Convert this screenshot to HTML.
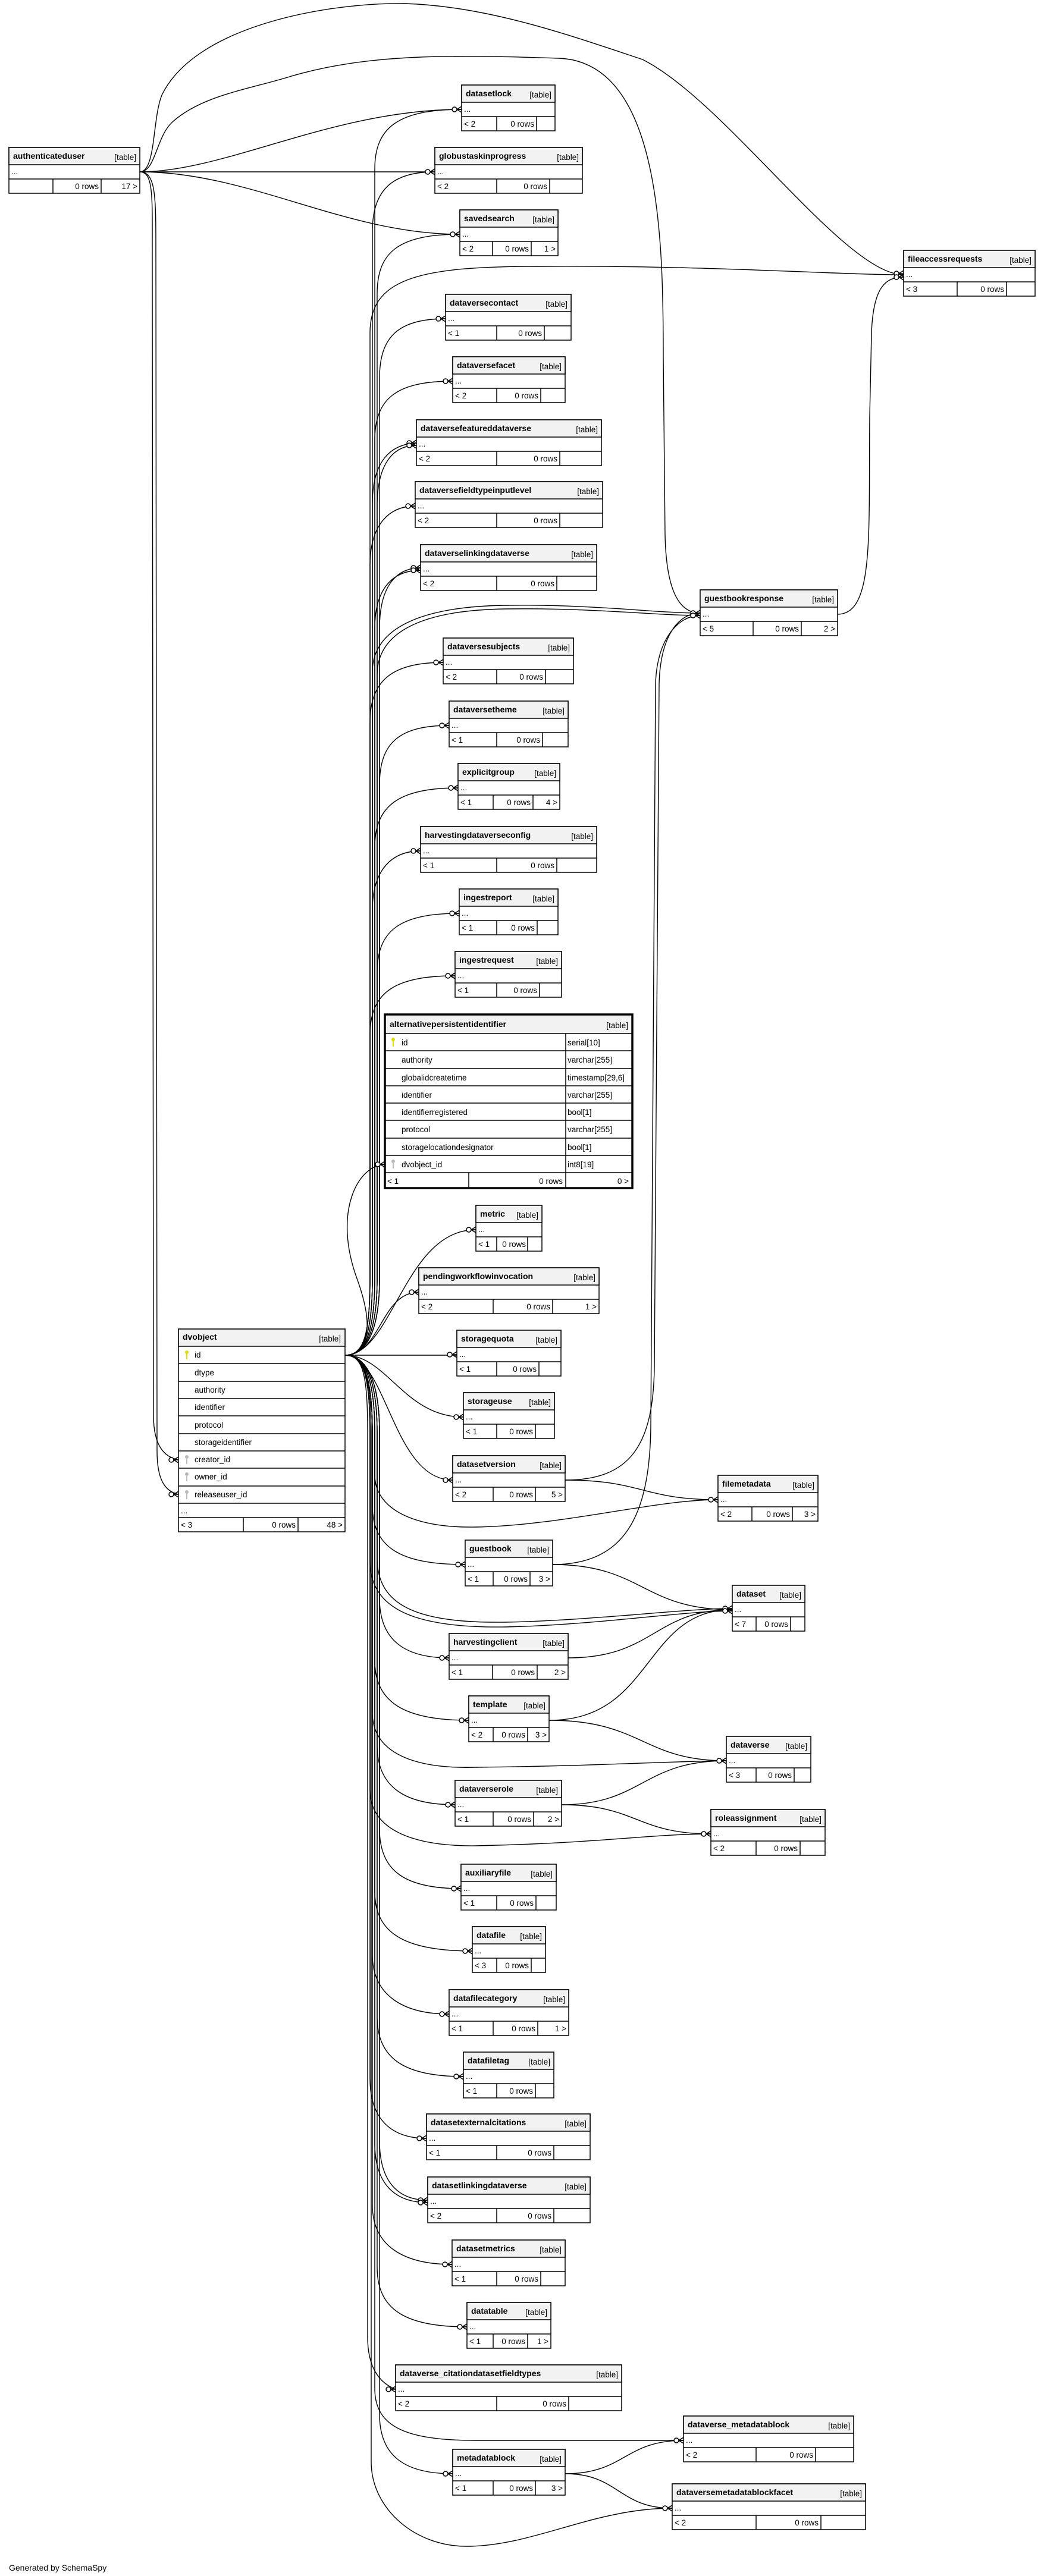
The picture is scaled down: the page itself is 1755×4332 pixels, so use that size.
<!DOCTYPE html>
<html><head><meta charset="utf-8"><style>
html,body{margin:0;padding:0;background:#fff;}
svg{display:block;font-family:"Liberation Sans",Arial,sans-serif;font-size:13.5px;}
.b{fill:#fff;stroke:#000;stroke-width:1.5}
.h{fill:#f2f2f2;stroke:#000;stroke-width:1.5}
.l{stroke:#000;stroke-width:1.5}
.n{font-weight:bold;font-size:14px}
.t,.e{text-anchor:end}
.c path{fill:none;stroke:#000;stroke-width:1.4}
</style></head><body>
<svg width="1755" height="4332" viewBox="0 0 1755 4332" xmlns="http://www.w3.org/2000/svg">
<defs>
<g id="cf"><path d="M-8,0L0,-5M-8,0L0,0M-8,0L0,5" stroke="#000" stroke-width="1.6" fill="none"/><circle cx="-12" cy="0" r="4" fill="#fff" stroke="#000" stroke-width="1.5"/></g>
<g id="ky"><circle cx="0" cy="-11" r="3" fill="#dddd00"/><rect x="-1" y="-9" width="2" height="10" fill="#dddd00"/></g>
<g id="kg"><circle cx="0" cy="-11" r="3" fill="#bbb"/><rect x="-1" y="-9" width="2" height="10" fill="#bbb"/></g>
</defs>
<rect width="1755" height="4332" fill="#fff"/>
<g class="c">
<!-- authenticateduser connectors -->
<path d="M235,289 C380,289 560,184 776,184"/>
<path d="M235,289 L731,289"/>
<path d="M235,289 C420,289 580,394 773,394"/>
<path d="M235,289 C262,289 256,200 272,160 C330,40 560,4 680,6 C820,10 960,60 1080,100 C1220,170 1420,462 1519,462"/>
<path d="M235,289 C262,289 262,230 290,205 C340,160 420,150 490,128 C620,90 760,92 940,98 C1110,105 1115,400 1115,600 L1118,900 C1120,990 1140,1031 1177,1031"/>
<path d="M235,289 C258,289 256,330 256,420 L258,2380 C258,2430 275,2450 300,2455"/>
<path d="M235,289 C262,289 262,330 262,420 L264,2440 C264,2490 278,2508 300,2513"/>
<!-- spine up -->
<path d="M580,2279 C610,2279 630,2250 630,2150 L630,284 C630,214 670,184 776,184"/>
<path d="M580,2279 C610,2279 626,2250 626,2150 L626,389 C626,319 660,289 731,289"/>
<path d="M580,2279 C610,2279 634,2250 634,2150 L634,494 C634,424 670,394 773,394"/>
<path d="M580,2279 C610,2279 622,2250 622,2150 L622,560 C622,470 700,448 900,448 C1200,446 1400,462 1519,462"/>
<path d="M580,2279 C610,2279 638,2250 638,2150 L638,636 C638,566 670,536 749,536"/>
<path d="M580,2279 C610,2279 630,2250 630,2150 L630,741 C630,671 665,641 761,641"/>
<path d="M580,2279 C610,2279 626,2250 626,2150 L626,847 C626,777 655,747 700,745"/>
<path d="M580,2279 C610,2279 634,2250 634,2150 L634,851 C634,781 660,749 700,749"/>
<path d="M580,2279 C610,2279 622,2250 622,2150 L622,951 C622,881 655,851 698,851"/>
<path d="M580,2279 C610,2279 638,2250 638,2150 L638,1057 C638,987 665,955 707,955"/>
<path d="M580,2279 C610,2279 630,2250 630,2150 L630,1057 C630,990 660,959 707,959"/>
<path d="M580,2279 C610,2279 626,2250 626,2150 L626,1130 C626,1060 700,1020 850,1018 C1000,1016 1100,1031 1177,1031"/>
<path d="M580,2279 C610,2279 634,2250 634,2150 L634,1135 C634,1065 705,1026 850,1024 C1000,1022 1100,1035 1177,1035"/>
<path d="M580,2279 C610,2279 622,2250 622,2150 L622,1214 C622,1144 660,1114 745,1114"/>
<path d="M580,2279 C610,2279 638,2250 638,2150 L638,1320 C638,1250 670,1220 755,1220"/>
<path d="M580,2279 C610,2279 630,2250 630,2150 L630,1425 C630,1355 670,1325 770,1325"/>
<path d="M580,2279 C610,2279 626,2250 626,2150 L626,1531 C626,1461 660,1431 707,1431"/>
<path d="M580,2279 C610,2279 634,2250 634,2150 L634,1636 C634,1566 670,1536 772,1536"/>
<path d="M580,2279 C610,2279 622,2250 622,2150 L622,1741 C622,1671 660,1641 765,1641"/>
<path d="M580,2279 C600,2279 640,2260 600,2150 C560,2040 600,1960 647,1958"/>
<path d="M580,2279 C660,2279 680,2068 800,2068"/>
<path d="M580,2279 C640,2279 640,2173 704,2173"/>
<!-- straight -->
<path d="M580,2279 L768,2279"/>
<!-- spine down -->
<path d="M580,2279 C650,2279 680,2383 779,2383"/>
<path d="M580,2279 C650,2279 660,2489 761,2489"/>
<path d="M580,2279 C610,2279 630,2310 630,2410 L630,2480 C630,2540 700,2570 800,2568 C950,2565 1100,2522 1207,2522"/>
<path d="M580,2279 C610,2279 626,2310 626,2410 L626,2531 C626,2601 670,2631 782,2631"/>
<path d="M580,2279 C610,2279 634,2310 634,2410 L634,2620 C634,2700 700,2730 850,2728 C1000,2725 1150,2705 1231,2705"/>
<path d="M580,2279 C610,2279 622,2310 622,2410 L622,2625 C622,2708 700,2738 850,2736 C1000,2733 1150,2709 1231,2709"/>
<path d="M580,2279 C610,2279 638,2310 638,2410 L638,2688 C638,2758 680,2788 755,2788"/>
<path d="M580,2279 C610,2279 630,2310 630,2410 L630,2793 C630,2863 680,2893 788,2893"/>
<path d="M580,2279 C610,2279 626,2310 626,2410 L626,2880 C626,2950 700,2975 800,2972 C1000,2970 1150,2961 1221,2961"/>
<path d="M580,2279 C610,2279 634,2310 634,2410 L634,2935 C634,3005 680,3035 765,3035"/>
<path d="M580,2279 C610,2279 622,2310 622,2410 L622,3010 C622,3080 700,3105 800,3104 C1000,3100 1100,3084 1195,3084"/>
<path d="M580,2279 C610,2279 638,2310 638,2410 L638,3076 C638,3146 680,3176 775,3176"/>
<path d="M580,2279 C610,2279 630,2310 630,2410 L630,3181 C630,3251 680,3281 794,3281"/>
<path d="M580,2279 C610,2279 626,2310 626,2410 L626,3287 C626,3357 680,3387 755,3387"/>
<path d="M580,2279 C610,2279 634,2310 634,2410 L634,3392 C634,3462 680,3492 779,3492"/>
<path d="M580,2279 C610,2279 622,2310 622,2410 L622,3496 C622,3566 660,3596 717,3596"/>
<path d="M580,2279 C610,2279 638,2310 638,2410 L638,3600 C638,3670 670,3700 719,3700"/>
<path d="M580,2279 C610,2279 630,2310 630,2410 L630,3604 C630,3674 665,3704 719,3704"/>
<path d="M580,2279 C610,2279 626,2310 626,2410 L626,3708 C626,3778 680,3808 760,3808"/>
<path d="M580,2279 C610,2279 634,2310 634,2410 L634,3813 C634,3883 680,3913 785,3913"/>
<path d="M580,2279 C610,2279 618,2310 618,2410 L618,3930 C618,3985 640,4008 665,4018"/>
<path d="M580,2279 C610,2279 630,2310 630,2410 L630,4020 C632,4080 680,4104 800,4104 L1149,4104"/>
<path d="M580,2279 C610,2279 638,2310 638,2410 L638,4060 C638,4130 680,4160 761,4160"/>
<path d="M580,2279 C610,2279 624,2310 624,2410 L624,4140 C624,4220 700,4285 790,4282 C900,4280 1000,4218 1130,4218"/>
<!-- right column -->
<path d="M950,2489 C1080,2489 1080,2522 1207,2522"/>
<path d="M950,2489 C1060,2489 1098,2430 1100,2300 L1108,1150 C1110,1070 1140,1031 1177,1031"/>
<path d="M929,2631 C1050,2631 1092,2550 1094,2400 L1102,1150 C1104,1075 1140,1035 1177,1035"/>
<path d="M929,2631 C1080,2631 1080,2707 1231,2707"/>
<path d="M955,2788 C1100,2788 1100,2707 1231,2707"/>
<path d="M923,2893 C1100,2893 1080,2707 1231,2707"/>
<path d="M923,2893 C1080,2893 1080,2961 1221,2961"/>
<path d="M944,3035 C1080,3035 1080,2961 1221,2961"/>
<path d="M944,3035 C1070,3035 1070,3084 1195,3084"/>
<path d="M950,4160 C1050,4160 1050,4104 1149,4104"/>
<path d="M950,4160 C1040,4160 1040,4218 1130,4218"/>
<path d="M1408,1033 C1470,1033 1460,900 1462,700 L1465,560 C1468,480 1490,466 1519,466"/>
</g>

<!-- tables -->
<g transform="translate(15,248)"><rect class="b" width="220" height="77"/><rect class="h" width="220" height="29"/><line class="l" x1="0" y1="53" x2="220" y2="53"/><line class="l" x1="74" y1="53" x2="74" y2="77"/><line class="l" x1="155" y1="53" x2="155" y2="77"/><text class="n" x="7" y="19">authenticateduser</text><text class="t" x="214" y="21">[table]</text><text x="4" y="45">...</text><text class="e" x="151" y="70">0 rows</text><text class="e" x="216" y="70">17 &gt;</text></g>

<g transform="translate(776,143)"><rect class="b" width="157" height="77"/><rect class="h" width="157" height="29"/><line class="l" x1="0" y1="53" x2="157" y2="53"/><line class="l" x1="59" y1="53" x2="59" y2="77"/><line class="l" x1="126" y1="53" x2="126" y2="77"/><text class="n" x="7" y="19">datasetlock</text><text class="t" x="151" y="21">[table]</text><text x="4" y="45">...</text><text x="4" y="70">&lt; 2</text><text class="e" x="122" y="70">0 rows</text></g>

<g transform="translate(731,248)"><rect class="b" width="248" height="77"/><rect class="h" width="248" height="29"/><line class="l" x1="0" y1="53" x2="248" y2="53"/><line class="l" x1="104" y1="53" x2="104" y2="77"/><line class="l" x1="193" y1="53" x2="193" y2="77"/><text class="n" x="7" y="19">globustaskinprogress</text><text class="t" x="242" y="21">[table]</text><text x="4" y="45">...</text><text x="4" y="70">&lt; 2</text><text class="e" x="189" y="70">0 rows</text></g>

<g transform="translate(773,353)"><rect class="b" width="165" height="77"/><rect class="h" width="165" height="29"/><line class="l" x1="0" y1="53" x2="165" y2="53"/><line class="l" x1="55" y1="53" x2="55" y2="77"/><line class="l" x1="120" y1="53" x2="120" y2="77"/><text class="n" x="7" y="19">savedsearch</text><text class="t" x="159" y="21">[table]</text><text x="4" y="45">...</text><text x="4" y="70">&lt; 2</text><text class="e" x="116" y="70">0 rows</text><text class="e" x="161" y="70">1 &gt;</text></g>

<g transform="translate(1519,421)"><rect class="b" width="221" height="77"/><rect class="h" width="221" height="29"/><line class="l" x1="0" y1="53" x2="221" y2="53"/><line class="l" x1="90" y1="53" x2="90" y2="77"/><line class="l" x1="173" y1="53" x2="173" y2="77"/><text class="n" x="7" y="19">fileaccessrequests</text><text class="t" x="215" y="21">[table]</text><text x="4" y="45">...</text><text x="4" y="70">&lt; 3</text><text class="e" x="169" y="70">0 rows</text></g>

<g transform="translate(749,495)"><rect class="b" width="211" height="77"/><rect class="h" width="211" height="29"/><line class="l" x1="0" y1="53" x2="211" y2="53"/><line class="l" x1="86" y1="53" x2="86" y2="77"/><line class="l" x1="166" y1="53" x2="166" y2="77"/><text class="n" x="7" y="19">dataversecontact</text><text class="t" x="205" y="21">[table]</text><text x="4" y="45">...</text><text x="4" y="70">&lt; 1</text><text class="e" x="162" y="70">0 rows</text></g>

<g transform="translate(761,600)"><rect class="b" width="189" height="77"/><rect class="h" width="189" height="29"/><line class="l" x1="0" y1="53" x2="189" y2="53"/><line class="l" x1="74" y1="53" x2="74" y2="77"/><line class="l" x1="148" y1="53" x2="148" y2="77"/><text class="n" x="7" y="19">dataversefacet</text><text class="t" x="183" y="21">[table]</text><text x="4" y="45">...</text><text x="4" y="70">&lt; 2</text><text class="e" x="144" y="70">0 rows</text></g>

<g transform="translate(700,706)"><rect class="b" width="311" height="77"/><rect class="h" width="311" height="29"/><line class="l" x1="0" y1="53" x2="311" y2="53"/><line class="l" x1="135" y1="53" x2="135" y2="77"/><line class="l" x1="241" y1="53" x2="241" y2="77"/><text class="n" x="7" y="19">dataversefeatureddataverse</text><text class="t" x="305" y="21">[table]</text><text x="4" y="45">...</text><text x="4" y="70">&lt; 2</text><text class="e" x="237" y="70">0 rows</text></g>

<g transform="translate(698,810)"><rect class="b" width="315" height="77"/><rect class="h" width="315" height="29"/><line class="l" x1="0" y1="53" x2="315" y2="53"/><line class="l" x1="137" y1="53" x2="137" y2="77"/><line class="l" x1="243" y1="53" x2="243" y2="77"/><text class="n" x="7" y="19">dataversefieldtypeinputlevel</text><text class="t" x="309" y="21">[table]</text><text x="4" y="45">...</text><text x="4" y="70">&lt; 2</text><text class="e" x="239" y="70">0 rows</text></g>

<g transform="translate(707,916)"><rect class="b" width="296" height="77"/><rect class="h" width="296" height="29"/><line class="l" x1="0" y1="53" x2="296" y2="53"/><line class="l" x1="128" y1="53" x2="128" y2="77"/><line class="l" x1="229" y1="53" x2="229" y2="77"/><text class="n" x="7" y="19">dataverselinkingdataverse</text><text class="t" x="290" y="21">[table]</text><text x="4" y="45">...</text><text x="4" y="70">&lt; 2</text><text class="e" x="225" y="70">0 rows</text></g>

<g transform="translate(1177,992)"><rect class="b" width="231" height="77"/><rect class="h" width="231" height="29"/><line class="l" x1="0" y1="53" x2="231" y2="53"/><line class="l" x1="89" y1="53" x2="89" y2="77"/><line class="l" x1="170" y1="53" x2="170" y2="77"/><text class="n" x="7" y="19">guestbookresponse</text><text class="t" x="225" y="21">[table]</text><text x="4" y="45">...</text><text x="4" y="70">&lt; 5</text><text class="e" x="166" y="70">0 rows</text><text class="e" x="227" y="70">2 &gt;</text></g>

<g transform="translate(745,1073)"><rect class="b" width="219" height="77"/><rect class="h" width="219" height="29"/><line class="l" x1="0" y1="53" x2="219" y2="53"/><line class="l" x1="90" y1="53" x2="90" y2="77"/><line class="l" x1="172" y1="53" x2="172" y2="77"/><text class="n" x="7" y="19">dataversesubjects</text><text class="t" x="213" y="21">[table]</text><text x="4" y="45">...</text><text x="4" y="70">&lt; 2</text><text class="e" x="168" y="70">0 rows</text></g>

<g transform="translate(755,1179)"><rect class="b" width="200" height="77"/><rect class="h" width="200" height="29"/><line class="l" x1="0" y1="53" x2="200" y2="53"/><line class="l" x1="80" y1="53" x2="80" y2="77"/><line class="l" x1="157" y1="53" x2="157" y2="77"/><text class="n" x="7" y="19">dataversetheme</text><text class="t" x="194" y="21">[table]</text><text x="4" y="45">...</text><text x="4" y="70">&lt; 1</text><text class="e" x="153" y="70">0 rows</text></g>

<g transform="translate(770,1284)"><rect class="b" width="171" height="77"/><rect class="h" width="171" height="29"/><line class="l" x1="0" y1="53" x2="171" y2="53"/><line class="l" x1="59" y1="53" x2="59" y2="77"/><line class="l" x1="126" y1="53" x2="126" y2="77"/><text class="n" x="7" y="19">explicitgroup</text><text class="t" x="165" y="21">[table]</text><text x="4" y="45">...</text><text x="4" y="70">&lt; 1</text><text class="e" x="122" y="70">0 rows</text><text class="e" x="167" y="70">4 &gt;</text></g>

<g transform="translate(707,1390)"><rect class="b" width="296" height="77"/><rect class="h" width="296" height="29"/><line class="l" x1="0" y1="53" x2="296" y2="53"/><line class="l" x1="128" y1="53" x2="128" y2="77"/><line class="l" x1="229" y1="53" x2="229" y2="77"/><text class="n" x="7" y="19">harvestingdataverseconfig</text><text class="t" x="290" y="21">[table]</text><text x="4" y="45">...</text><text x="4" y="70">&lt; 1</text><text class="e" x="225" y="70">0 rows</text></g>

<g transform="translate(772,1495)"><rect class="b" width="166" height="77"/><rect class="h" width="166" height="29"/><line class="l" x1="0" y1="53" x2="166" y2="53"/><line class="l" x1="63" y1="53" x2="63" y2="77"/><line class="l" x1="131" y1="53" x2="131" y2="77"/><text class="n" x="7" y="19">ingestreport</text><text class="t" x="160" y="21">[table]</text><text x="4" y="45">...</text><text x="4" y="70">&lt; 1</text><text class="e" x="127" y="70">0 rows</text></g>

<g transform="translate(765,1600)"><rect class="b" width="179" height="77"/><rect class="h" width="179" height="29"/><line class="l" x1="0" y1="53" x2="179" y2="53"/><line class="l" x1="70" y1="53" x2="70" y2="77"/><line class="l" x1="142" y1="53" x2="142" y2="77"/><text class="n" x="7" y="19">ingestrequest</text><text class="t" x="173" y="21">[table]</text><text x="4" y="45">...</text><text x="4" y="70">&lt; 1</text><text class="e" x="138" y="70">0 rows</text></g>

<!-- alternativepersistentidentifier -->
<g transform="translate(647,1706)">
<rect x="0" y="0" width="416" height="292" fill="#fff" stroke="#000" stroke-width="3.5"/>
<rect x="2" y="2" width="412" height="30" fill="#f2f2f2"/>
<line class="l" x1="0" y1="32" x2="416" y2="32"/>
<line class="l" x1="0" y1="61" x2="416" y2="61"/>
<line class="l" x1="0" y1="91" x2="416" y2="91"/>
<line class="l" x1="0" y1="120" x2="416" y2="120"/>
<line class="l" x1="0" y1="149" x2="416" y2="149"/>
<line class="l" x1="0" y1="178" x2="416" y2="178"/>
<line class="l" x1="0" y1="208" x2="416" y2="208"/>
<line class="l" x1="0" y1="237" x2="416" y2="237"/>
<line class="l" x1="0" y1="266" x2="416" y2="266"/>
<line class="l" x1="304" y1="32" x2="304" y2="292"/>
<line class="l" x1="141" y1="266" x2="141" y2="292"/>
<text class="n" x="8" y="21">alternativepersistentidentifier</text><text class="t" x="409" y="23">[table]</text>
<use href="#ky" x="14" y="53"/>
<text x="28" y="52">id</text><text x="307" y="52">serial[10]</text>
<text x="28" y="81">authority</text><text x="307" y="81">varchar[255]</text>
<text x="28" y="111">globalidcreatetime</text><text x="307" y="111">timestamp[29,6]</text>
<text x="28" y="140">identifier</text><text x="307" y="140">varchar[255]</text>
<text x="28" y="169">identifierregistered</text><text x="307" y="169">bool[1]</text>
<text x="28" y="198">protocol</text><text x="307" y="198">varchar[255]</text>
<text x="28" y="228">storagelocationdesignator</text><text x="307" y="228">bool[1]</text>
<use href="#kg" x="14" y="258"/>
<text x="28" y="257">dvobject_id</text><text x="307" y="257">int8[19]</text>
<text x="4" y="285">&lt; 1</text><text class="e" x="299" y="285">0 rows</text><text class="e" x="410" y="285">0 &gt;</text>
</g>

<g transform="translate(800,2027)"><rect class="b" width="111" height="77"/><rect class="h" width="111" height="29"/><line class="l" x1="0" y1="53" x2="111" y2="53"/><line class="l" x1="35" y1="53" x2="35" y2="77"/><line class="l" x1="87" y1="53" x2="87" y2="77"/><text class="n" x="7" y="19">metric</text><text class="t" x="105" y="21">[table]</text><text x="4" y="45">...</text><text x="4" y="70">&lt; 1</text><text class="e" x="84" y="70">0 rows</text></g>

<g transform="translate(704,2132)"><rect class="b" width="303" height="77"/><rect class="h" width="303" height="29"/><line class="l" x1="0" y1="53" x2="303" y2="53"/><line class="l" x1="125" y1="53" x2="125" y2="77"/><line class="l" x1="225" y1="53" x2="225" y2="77"/><text class="n" x="7" y="19">pendingworkflowinvocation</text><text class="t" x="297" y="21">[table]</text><text x="4" y="45">...</text><text x="4" y="70">&lt; 2</text><text class="e" x="221" y="70">0 rows</text><text class="e" x="299" y="70">1 &gt;</text></g>

<g transform="translate(768,2237)"><rect class="b" width="175" height="77"/><rect class="h" width="175" height="29"/><line class="l" x1="0" y1="53" x2="175" y2="53"/><line class="l" x1="67" y1="53" x2="67" y2="77"/><line class="l" x1="138" y1="53" x2="138" y2="77"/><text class="n" x="7" y="19">storagequota</text><text class="t" x="169" y="21">[table]</text><text x="4" y="45">...</text><text x="4" y="70">&lt; 1</text><text class="e" x="134" y="70">0 rows</text></g>

<g transform="translate(779,2342)"><rect class="b" width="153" height="77"/><rect class="h" width="153" height="29"/><line class="l" x1="0" y1="53" x2="153" y2="53"/><line class="l" x1="56" y1="53" x2="56" y2="77"/><line class="l" x1="121" y1="53" x2="121" y2="77"/><text class="n" x="7" y="19">storageuse</text><text class="t" x="147" y="21">[table]</text><text x="4" y="45">...</text><text x="4" y="70">&lt; 1</text><text class="e" x="117" y="70">0 rows</text></g>

<g transform="translate(761,2448)"><rect class="b" width="189" height="77"/><rect class="h" width="189" height="29"/><line class="l" x1="0" y1="53" x2="189" y2="53"/><line class="l" x1="68" y1="53" x2="68" y2="77"/><line class="l" x1="139" y1="53" x2="139" y2="77"/><text class="n" x="7" y="19">datasetversion</text><text class="t" x="183" y="21">[table]</text><text x="4" y="45">...</text><text x="4" y="70">&lt; 2</text><text class="e" x="135" y="70">0 rows</text><text class="e" x="185" y="70">5 &gt;</text></g>

<g transform="translate(1207,2481)"><rect class="b" width="168" height="77"/><rect class="h" width="168" height="29"/><line class="l" x1="0" y1="53" x2="168" y2="53"/><line class="l" x1="57" y1="53" x2="57" y2="77"/><line class="l" x1="125" y1="53" x2="125" y2="77"/><text class="n" x="7" y="19">filemetadata</text><text class="t" x="162" y="21">[table]</text><text x="4" y="45">...</text><text x="4" y="70">&lt; 2</text><text class="e" x="121" y="70">0 rows</text><text class="e" x="164" y="70">3 &gt;</text></g>

<g transform="translate(782,2590)"><rect class="b" width="147" height="77"/><rect class="h" width="147" height="29"/><line class="l" x1="0" y1="53" x2="147" y2="53"/><line class="l" x1="47" y1="53" x2="47" y2="77"/><line class="l" x1="109" y1="53" x2="109" y2="77"/><text class="n" x="7" y="19">guestbook</text><text class="t" x="141" y="21">[table]</text><text x="4" y="45">...</text><text x="4" y="70">&lt; 1</text><text class="e" x="105" y="70">0 rows</text><text class="e" x="143" y="70">3 &gt;</text></g>

<g transform="translate(1231,2666)"><rect class="b" width="122" height="77"/><rect class="h" width="122" height="29"/><line class="l" x1="0" y1="53" x2="122" y2="53"/><line class="l" x1="40" y1="53" x2="40" y2="77"/><line class="l" x1="98" y1="53" x2="98" y2="77"/><text class="n" x="7" y="19">dataset</text><text class="t" x="116" y="21">[table]</text><text x="4" y="45">...</text><text x="4" y="70">&lt; 7</text><text class="e" x="94" y="70">0 rows</text></g>

<g transform="translate(755,2747)"><rect class="b" width="200" height="77"/><rect class="h" width="200" height="29"/><line class="l" x1="0" y1="53" x2="200" y2="53"/><line class="l" x1="73" y1="53" x2="73" y2="77"/><line class="l" x1="148" y1="53" x2="148" y2="77"/><text class="n" x="7" y="19">harvestingclient</text><text class="t" x="194" y="21">[table]</text><text x="4" y="45">...</text><text x="4" y="70">&lt; 1</text><text class="e" x="144" y="70">0 rows</text><text class="e" x="196" y="70">2 &gt;</text></g>

<g transform="translate(788,2852)"><rect class="b" width="135" height="77"/><rect class="h" width="135" height="29"/><line class="l" x1="0" y1="53" x2="135" y2="53"/><line class="l" x1="41" y1="53" x2="41" y2="77"/><line class="l" x1="99" y1="53" x2="99" y2="77"/><text class="n" x="7" y="19">template</text><text class="t" x="129" y="21">[table]</text><text x="4" y="45">...</text><text x="4" y="70">&lt; 2</text><text class="e" x="95" y="70">0 rows</text><text class="e" x="131" y="70">3 &gt;</text></g>

<g transform="translate(1221,2920)"><rect class="b" width="142" height="77"/><rect class="h" width="142" height="29"/><line class="l" x1="0" y1="53" x2="142" y2="53"/><line class="l" x1="50" y1="53" x2="50" y2="77"/><line class="l" x1="114" y1="53" x2="114" y2="77"/><text class="n" x="7" y="19">dataverse</text><text class="t" x="136" y="21">[table]</text><text x="4" y="45">...</text><text x="4" y="70">&lt; 3</text><text class="e" x="110" y="70">0 rows</text></g>

<g transform="translate(765,2994)"><rect class="b" width="179" height="77"/><rect class="h" width="179" height="29"/><line class="l" x1="0" y1="53" x2="179" y2="53"/><line class="l" x1="64" y1="53" x2="64" y2="77"/><line class="l" x1="132" y1="53" x2="132" y2="77"/><text class="n" x="7" y="19">dataverserole</text><text class="t" x="173" y="21">[table]</text><text x="4" y="45">...</text><text x="4" y="70">&lt; 1</text><text class="e" x="128" y="70">0 rows</text><text class="e" x="175" y="70">2 &gt;</text></g>

<g transform="translate(1195,3043)"><rect class="b" width="192" height="77"/><rect class="h" width="192" height="29"/><line class="l" x1="0" y1="53" x2="192" y2="53"/><line class="l" x1="76" y1="53" x2="76" y2="77"/><line class="l" x1="150" y1="53" x2="150" y2="77"/><text class="n" x="7" y="19">roleassignment</text><text class="t" x="186" y="21">[table]</text><text x="4" y="45">...</text><text x="4" y="70">&lt; 2</text><text class="e" x="146" y="70">0 rows</text></g>

<g transform="translate(775,3135)"><rect class="b" width="160" height="77"/><rect class="h" width="160" height="29"/><line class="l" x1="0" y1="53" x2="160" y2="53"/><line class="l" x1="60" y1="53" x2="60" y2="77"/><line class="l" x1="126" y1="53" x2="126" y2="77"/><text class="n" x="7" y="19">auxiliaryfile</text><text class="t" x="154" y="21">[table]</text><text x="4" y="45">...</text><text x="4" y="70">&lt; 1</text><text class="e" x="122" y="70">0 rows</text></g>

<g transform="translate(794,3240)"><rect class="b" width="123" height="77"/><rect class="h" width="123" height="29"/><line class="l" x1="0" y1="53" x2="123" y2="53"/><line class="l" x1="41" y1="53" x2="41" y2="77"/><line class="l" x1="99" y1="53" x2="99" y2="77"/><text class="n" x="7" y="19">datafile</text><text class="t" x="117" y="21">[table]</text><text x="4" y="45">...</text><text x="4" y="70">&lt; 3</text><text class="e" x="95" y="70">0 rows</text></g>

<g transform="translate(755,3346)"><rect class="b" width="201" height="77"/><rect class="h" width="201" height="29"/><line class="l" x1="0" y1="53" x2="201" y2="53"/><line class="l" x1="74" y1="53" x2="74" y2="77"/><line class="l" x1="149" y1="53" x2="149" y2="77"/><text class="n" x="7" y="19">datafilecategory</text><text class="t" x="195" y="21">[table]</text><text x="4" y="45">...</text><text x="4" y="70">&lt; 1</text><text class="e" x="145" y="70">0 rows</text><text class="e" x="197" y="70">1 &gt;</text></g>

<g transform="translate(779,3451)"><rect class="b" width="152" height="77"/><rect class="h" width="152" height="29"/><line class="l" x1="0" y1="53" x2="152" y2="53"/><line class="l" x1="56" y1="53" x2="56" y2="77"/><line class="l" x1="121" y1="53" x2="121" y2="77"/><text class="n" x="7" y="19">datafiletag</text><text class="t" x="146" y="21">[table]</text><text x="4" y="45">...</text><text x="4" y="70">&lt; 1</text><text class="e" x="117" y="70">0 rows</text></g>

<g transform="translate(717,3555)"><rect class="b" width="275" height="77"/><rect class="h" width="275" height="29"/><line class="l" x1="0" y1="53" x2="275" y2="53"/><line class="l" x1="118" y1="53" x2="118" y2="77"/><line class="l" x1="214" y1="53" x2="214" y2="77"/><text class="n" x="7" y="19">datasetexternalcitations</text><text class="t" x="269" y="21">[table]</text><text x="4" y="45">...</text><text x="4" y="70">&lt; 1</text><text class="e" x="210" y="70">0 rows</text></g>

<g transform="translate(719,3661)"><rect class="b" width="273" height="77"/><rect class="h" width="273" height="29"/><line class="l" x1="0" y1="53" x2="273" y2="53"/><line class="l" x1="116" y1="53" x2="116" y2="77"/><line class="l" x1="212" y1="53" x2="212" y2="77"/><text class="n" x="7" y="19">datasetlinkingdataverse</text><text class="t" x="267" y="21">[table]</text><text x="4" y="45">...</text><text x="4" y="70">&lt; 2</text><text class="e" x="208" y="70">0 rows</text></g>

<g transform="translate(760,3767)"><rect class="b" width="190" height="77"/><rect class="h" width="190" height="29"/><line class="l" x1="0" y1="53" x2="190" y2="53"/><line class="l" x1="75" y1="53" x2="75" y2="77"/><line class="l" x1="149" y1="53" x2="149" y2="77"/><text class="n" x="7" y="19">datasetmetrics</text><text class="t" x="184" y="21">[table]</text><text x="4" y="45">...</text><text x="4" y="70">&lt; 1</text><text class="e" x="145" y="70">0 rows</text></g>

<g transform="translate(785,3872)"><rect class="b" width="141" height="77"/><rect class="h" width="141" height="29"/><line class="l" x1="0" y1="53" x2="141" y2="53"/><line class="l" x1="44" y1="53" x2="44" y2="77"/><line class="l" x1="102" y1="53" x2="102" y2="77"/><text class="n" x="7" y="19">datatable</text><text class="t" x="135" y="21">[table]</text><text x="4" y="45">...</text><text x="4" y="70">&lt; 1</text><text class="e" x="98" y="70">0 rows</text><text class="e" x="137" y="70">1 &gt;</text></g>

<g transform="translate(665,3977)"><rect class="b" width="380" height="77"/><rect class="h" width="380" height="29"/><line class="l" x1="0" y1="53" x2="380" y2="53"/><line class="l" x1="170" y1="53" x2="170" y2="77"/><line class="l" x1="291" y1="53" x2="291" y2="77"/><text class="n" x="7" y="19">dataverse_citationdatasetfieldtypes</text><text class="t" x="374" y="21">[table]</text><text x="4" y="45">...</text><text x="4" y="70">&lt; 2</text><text class="e" x="287" y="70">0 rows</text></g>

<g transform="translate(1149,4063)"><rect class="b" width="286" height="77"/><rect class="h" width="286" height="29"/><line class="l" x1="0" y1="53" x2="286" y2="53"/><line class="l" x1="122" y1="53" x2="122" y2="77"/><line class="l" x1="222" y1="53" x2="222" y2="77"/><text class="n" x="7" y="19">dataverse_metadatablock</text><text class="t" x="280" y="21">[table]</text><text x="4" y="45">...</text><text x="4" y="70">&lt; 2</text><text class="e" x="218" y="70">0 rows</text></g>

<g transform="translate(761,4119)"><rect class="b" width="189" height="77"/><rect class="h" width="189" height="29"/><line class="l" x1="0" y1="53" x2="189" y2="53"/><line class="l" x1="68" y1="53" x2="68" y2="77"/><line class="l" x1="139" y1="53" x2="139" y2="77"/><text class="n" x="7" y="19">metadatablock</text><text class="t" x="183" y="21">[table]</text><text x="4" y="45">...</text><text x="4" y="70">&lt; 1</text><text class="e" x="135" y="70">0 rows</text><text class="e" x="185" y="70">3 &gt;</text></g>

<g transform="translate(1130,4177)"><rect class="b" width="325" height="77"/><rect class="h" width="325" height="29"/><line class="l" x1="0" y1="53" x2="325" y2="53"/><line class="l" x1="141" y1="53" x2="141" y2="77"/><line class="l" x1="250" y1="53" x2="250" y2="77"/><text class="n" x="7" y="19">dataversemetadatablockfacet</text><text class="t" x="319" y="21">[table]</text><text x="4" y="45">...</text><text x="4" y="70">&lt; 2</text><text class="e" x="246" y="70">0 rows</text></g>

<!-- dvobject -->
<g transform="translate(300,2235)">
<rect class="b" width="280" height="341"/>
<rect class="h" width="280" height="29"/>
<line class="l" x1="0" y1="58" x2="280" y2="58"/>
<line class="l" x1="0" y1="88" x2="280" y2="88"/>
<line class="l" x1="0" y1="117" x2="280" y2="117"/>
<line class="l" x1="0" y1="146" x2="280" y2="146"/>
<line class="l" x1="0" y1="176" x2="280" y2="176"/>
<line class="l" x1="0" y1="205" x2="280" y2="205"/>
<line class="l" x1="0" y1="234" x2="280" y2="234"/>
<line class="l" x1="0" y1="264" x2="280" y2="264"/>
<line class="l" x1="0" y1="293" x2="280" y2="293"/>
<line class="l" x1="0" y1="317" x2="280" y2="317"/>
<line class="l" x1="109" y1="317" x2="109" y2="341"/>
<line class="l" x1="201" y1="317" x2="201" y2="341"/>
<text class="n" x="7" y="18">dvobject</text><text class="t" x="273" y="21">[table]</text>
<use href="#ky" x="14" y="50"/>
<text x="27" y="48">id</text>
<text x="27" y="78">dtype</text>
<text x="27" y="107">authority</text>
<text x="27" y="136">identifier</text>
<text x="27" y="166">protocol</text>
<text x="27" y="195">storageidentifier</text>
<use href="#kg" x="14" y="226"/>
<text x="27" y="224">creator_id</text>
<use href="#kg" x="14" y="255"/>
<text x="27" y="253">owner_id</text>
<use href="#kg" x="14" y="285"/>
<text x="27" y="283">releaseuser_id</text>
<text x="4" y="310">...</text>
<text x="4" y="334">&lt; 3</text><text class="e" x="197" y="334">0 rows</text><text class="e" x="276" y="334">48 &gt;</text>
</g>

<!-- markers -->
<use href="#cf" x="776" y="184"/>
<use href="#cf" x="731" y="289"/>
<use href="#cf" x="773" y="394"/>
<use href="#cf" x="1519" y="460"/>
<use href="#cf" x="1519" y="466"/>
<use href="#cf" x="749" y="536"/>
<use href="#cf" x="761" y="641"/>
<use href="#cf" x="700" y="745"/>
<use href="#cf" x="700" y="749"/>
<use href="#cf" x="698" y="851"/>
<use href="#cf" x="707" y="955"/>
<use href="#cf" x="707" y="959"/>
<use href="#cf" x="1177" y="1031"/>
<use href="#cf" x="1177" y="1035"/>
<use href="#cf" x="745" y="1114"/>
<use href="#cf" x="755" y="1220"/>
<use href="#cf" x="770" y="1325"/>
<use href="#cf" x="707" y="1431"/>
<use href="#cf" x="772" y="1536"/>
<use href="#cf" x="765" y="1641"/>
<use href="#cf" x="647" y="1958"/>
<use href="#cf" x="800" y="2068"/>
<use href="#cf" x="704" y="2173"/>
<use href="#cf" x="768" y="2278"/>
<use href="#cf" x="779" y="2383"/>
<use href="#cf" x="761" y="2489"/>
<use href="#cf" x="1207" y="2522"/>
<use href="#cf" x="782" y="2631"/>
<use href="#cf" x="1231" y="2705"/>
<use href="#cf" x="1231" y="2709"/>
<use href="#cf" x="755" y="2788"/>
<use href="#cf" x="788" y="2893"/>
<use href="#cf" x="1221" y="2961"/>
<use href="#cf" x="765" y="3035"/>
<use href="#cf" x="1195" y="3084"/>
<use href="#cf" x="775" y="3176"/>
<use href="#cf" x="794" y="3281"/>
<use href="#cf" x="755" y="3387"/>
<use href="#cf" x="779" y="3492"/>
<use href="#cf" x="717" y="3596"/>
<use href="#cf" x="719" y="3700"/>
<use href="#cf" x="719" y="3704"/>
<use href="#cf" x="760" y="3808"/>
<use href="#cf" x="785" y="3913"/>
<use href="#cf" x="665" y="4018"/>
<use href="#cf" x="1149" y="4104"/>
<use href="#cf" x="761" y="4160"/>
<use href="#cf" x="1130" y="4218"/>
<use href="#cf" x="300" y="2455"/>
<use href="#cf" x="300" y="2513"/>

<text x="15" y="4323" font-size="14">Generated by SchemaSpy</text>
</svg>
</body></html>
